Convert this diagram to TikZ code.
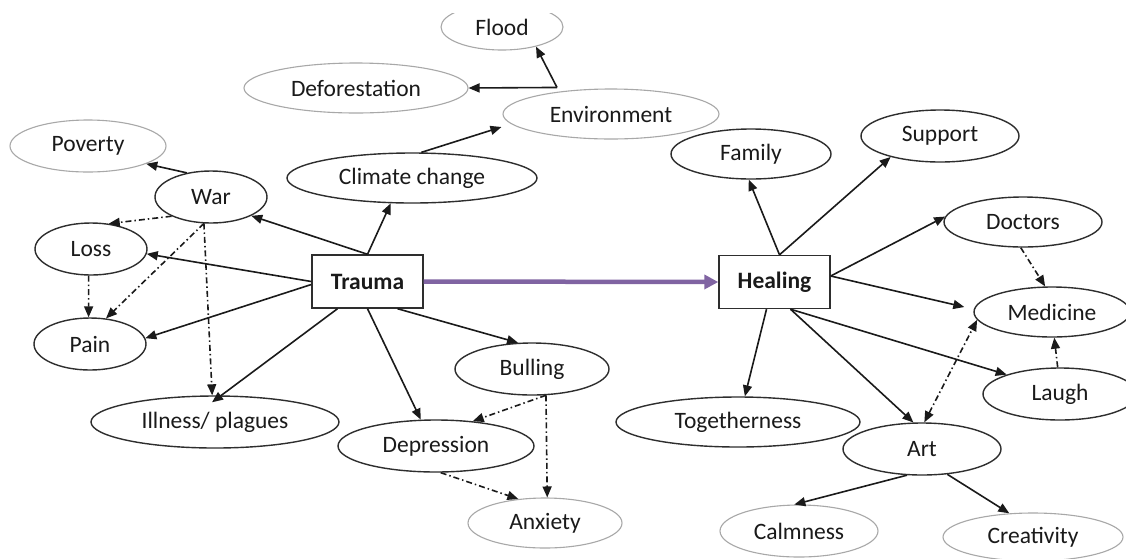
\documentclass[tikz,border=0pt]{standalone}
\usepackage{fontspec}
\setmainfont{Carlito}
\usetikzlibrary{arrows.meta,shapes.geometric}
\definecolor{ink}{HTML}{1A1A1A}
\definecolor{lightedge}{HTML}{A8A8A8}
\definecolor{darkedge}{HTML}{2E2E2E}
\definecolor{purp}{HTML}{8064A2}
\begin{document}
\begin{tikzpicture}[x=1pt,y=-1pt,
  every node/.style={font=\fontsize{23.5}{27}\selectfont, text=ink},
  oval/.style 2 args={ellipse, draw=darkedge, line width=1.4pt, inner sep=0pt, minimum width=#1pt, minimum height=#2pt},
  paleoval/.style 2 args={oval={#1}{#2}, draw=lightedge, line width=1.1pt},
  boxnode/.style={rectangle, draw=darkedge, line width=1.4pt, minimum width=111pt, minimum height=53pt, inner sep=0pt, font=\fontsize{23.5}{27}\selectfont\bfseries},
  link/.style={draw=ink, line width=1.6pt, -{Triangle[length=11pt,width=9pt]}},
  dd/.style={link, dash pattern=on 6pt off 3pt on 1.5pt off 3pt},
  bothtips/.style={{Triangle[length=11pt,width=9pt]}-{Triangle[length=11pt,width=9pt]}},
  purpleline/.style={draw=purp, line width=4.5pt, -{Triangle[length=14pt,width=14pt]}},
]
\fill[white] (0,0) rectangle (1126,558);
\useasboundingbox (0,0) rectangle (1126,558);

% ---- nodes: trauma side ----
\begin{scope}
\clip (0,13) rectangle (1126,558);
\node[paleoval={122}{46}] (flood) at (502,27) {Flood};
\end{scope}
\node[paleoval={224}{50}] (defo) at (356,88) {Deforestation};
\node[paleoval={216}{50}] (env) at (611,114) {Environment};
\node[paleoval={156}{52}] (poverty) at (88,146) {Poverty};
\node[oval={112}{52}] (war) at (211,197) {War};
\node[oval={250}{50}] (climate) at (412,178) {Climate change};
\node[oval={112}{52}] (loss) at (91,249) {Loss};
\node[oval={112}{52}] (pain) at (90,344) {Pain};
\node[oval={248}{52}] (illness) at (215,422) {Illness/ plagues};
\node[oval={154}{52}] (bulling) at (532,369) {Bulling};
\node[oval={196}{52}] (depression) at (436,446) {Depression};
\node[paleoval={154}{50}] (anxiety) at (545,523) {Anxiety};
\node[boxnode] (trauma) at (367.5,281.5) {Trauma};

% ---- nodes: healing side ----
\node[boxnode] (healing) at (774.5,282) {Healing};
\node[oval={160}{50}] (family) at (751,154) {Family};
\node[oval={158}{52}] (support) at (940,136) {Support};
\node[oval={158}{50}] (doctors) at (1023,222) {Doctors};
\node[oval={156}{50}] (medicine) at (1052,312) {Medicine};
\node[oval={154}{52}] (laugh) at (1060,394) {Laugh};
\node[oval={244}{50}] (together) at (738,422) {Togetherness};
\node[oval={158}{52}] (art) at (922,449) {Art};
\node[paleoval={158}{52}] (calm) at (799,531) {Calmness};
\node[paleoval={180}{48}] (creat) at (1033,537) {Creativity};

% ---- connectors: trauma side ----
\coordinate (ej) at ([xshift=-54pt,yshift=1pt]env.north);
\draw[link] (ej) -- (defo.east);
\draw[link] (ej) -- (flood.-30);
\draw[link] (climate.70) -- ([xshift=-1pt,yshift=-13pt]env.west);
\draw[link] (trauma.north) -- (war.-25);
\draw[link] (trauma.north) -- (climate.230);
\draw[link] (war.135) -- (poverty.-17);
\draw[dd] (war.206) -- (loss.55);
\draw[dd] (war.255) -- (pain.58);
\draw[dd] (war.255) -- (illness.96);
\draw[dd] (loss.265) -- (pain.93);
\draw[link] (trauma.west) -- (loss.-5);
\draw[link] ([yshift=-3pt]trauma.west) -- (pain.6);
\draw[link] ([xshift=-30pt]trauma.south) -- ([xshift=-3pt,yshift=-7pt]illness.north);
\draw[link] (trauma.south) -- (depression.120);
\draw[link] ([xshift=30pt]trauma.south) -- (bulling.118);
\draw[dd] (bulling.-62) -- (depression.34);
\draw[dd] (bulling.-62) -- (anxiety.85);
\draw[dd] (depression.-80) -- (anxiety.138);

% ---- main arrow ----
\draw[purpleline] (trauma.east) -- (healing.west);

% ---- connectors: healing side ----
\draw[link] ([xshift=5pt]healing.north) -- (family.-95);
\draw[link] ([xshift=5pt]healing.north) -- (support.203);
\draw[link] ([yshift=6pt]healing.east) -- (doctors.176);
\draw[link] ([yshift=6pt]healing.east) -- ([xshift=-9pt,yshift=5pt]medicine.west);
\draw[link] ([xshift=16pt]healing.south) -- (laugh.160);
\draw[link] ([xshift=16pt]healing.south) -- (art.108);
\draw[link] ([xshift=-8pt]healing.south) -- (together.75);
\draw[dd] (doctors.-95) -- (medicine.105);
\draw[dd] (laugh.95) -- (medicine.-85);
\draw[dd, bothtips] (art.85) -- (medicine.186);
\draw[link] (art.240) -- (calm.100);
\draw[link] (art.-45) -- (creat.135);
\end{tikzpicture}
\end{document}
